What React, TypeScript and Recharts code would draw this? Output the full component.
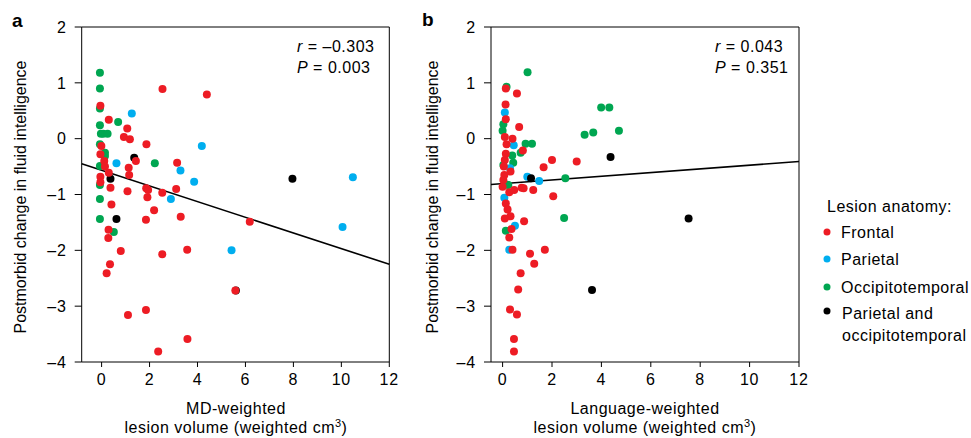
import React from "react";
import { ReferenceLine, Scatter, ScatterChart, XAxis, YAxis } from "recharts";

// panel a: MD-weighted lesion volume vs change in fluid intelligence
const mdFrontal = [
  [-0.05, 0.59], [2.54, 0.89], [4.39, 0.79], [0.3, 0.34], [1.07, 0.18], [0.93, 0.03],
  [1.18, -0.01], [-0.01, -0.13], [1.87, -0.1], [-0.05, -0.28], [1.43, -0.4], [0.11, -0.4],
  [3.15, -0.43], [1.13, -0.52], [0.14, -0.5], [0.3, -0.61], [1.15, -0.65], [-0.05, -0.68],
  [-0.05, -0.78], [0.37, -0.88], [1.86, -0.89], [1.94, -0.92], [1.08, -0.94], [2.53, -0.97],
  [3.11, -0.9], [1.91, -1.05], [0.41, -1.18], [2.19, -1.28], [1.85, -1.45], [3.3, -1.4],
  [6.18, -1.49], [0.29, -1.63], [0.28, -1.78], [0.8, -2.01], [2.53, -2.07], [3.57, -1.99],
  [0.35, -2.25], [0.21, -2.41], [5.58, -2.72], [1.1, -3.16], [1.85, -3.07], [3.58, -3.59],
  [2.36, -3.81]
];
const mdParietal = [
  [1.26, 0.45], [4.18, -0.13], [0.62, -0.44], [3.29, -0.57], [3.86, -0.77], [2.89, -1.08],
  [5.42, -2.0], [10.48, -0.69], [10.05, -1.58]
];
const mdOccipito = [
  [-0.07, 1.18], [-0.07, 0.9], [-0.07, 0.54], [0.69, 0.3], [-0.07, 0.24], [-0.03, 0.09],
  [0.07, 0.09], [0.25, 0.09], [-0.07, -0.1], [0.14, -0.25], [0.14, -0.31], [2.22, -0.44],
  [-0.07, -0.49], [-0.07, -0.83], [-0.07, -1.08], [-0.07, -1.44], [0.51, -1.67]
];
const mdBoth = [[1.36, -0.34], [0.37, -0.72], [0.62, -1.44], [7.96, -0.72], [5.6, -2.72]];
const mdFit = [[-0.83, -0.45], [12, -2.25]];

// panel b: language-weighted lesion volume
const langFrontal = [
  [0.13, 0.9], [0.58, 0.81], [0.12, 0.61], [0.13, 0.35], [0.67, 0.21], [0.09, 0.03],
  [0.4, 0.0], [0.16, -0.1], [0.13, -0.27], [0.82, -0.21], [0.09, -0.38], [1.66, -0.51],
  [2.0, -0.38], [3.0, -0.41], [0.05, -0.5], [0.32, -0.59], [0.07, -0.65], [0.03, -0.74],
  [0.0, -0.86], [0.27, -0.96], [0.47, -0.92], [0.77, -0.88], [0.85, -0.89], [1.24, -0.92],
  [2.05, -1.03], [0.13, -1.16], [0.2, -1.27], [0.32, -1.39], [0.09, -1.43], [0.87, -1.48],
  [0.36, -1.62], [0.27, -1.77], [0.4, -1.99], [1.11, -2.06], [1.71, -1.99], [1.28, -2.24],
  [0.73, -2.41], [0.63, -2.7], [0.3, -3.06], [0.58, -3.15], [0.46, -3.59], [0.46, -3.81]
];
const langParietal = [
  [0.09, 0.47], [0.45, -0.12], [0.3, -0.53], [1.0, -0.68], [1.48, -0.76], [0.07, -1.06],
  [0.5, -1.56], [0.27, -1.99]
];
const langOccipito = [
  [1.01, 1.19], [0.16, 0.93], [0.03, 0.26], [0.0, 0.14], [3.99, 0.56], [4.32, 0.56],
  [3.32, 0.07], [3.67, 0.11], [4.71, 0.14], [0.93, -0.09], [1.19, -0.09], [0.39, -0.3],
  [0.73, -0.25], [0.43, -0.43], [0.03, -0.47], [2.54, -0.71], [0.16, -0.82], [0.23, -0.83],
  [2.49, -1.42], [0.13, -1.65]
];
const langBoth = [[1.15, -0.71], [4.37, -0.33], [3.62, -2.71], [7.53, -1.43]];
const langFit = [[-0.47, -0.82], [12, -0.41]];

const xTicks = [0, 2, 4, 6, 8, 10, 12];
const yTicks = [-4, -3, -2, -1, 0, 1, 2];

const groups = ["Frontal", "Parietal", "Occipitotemporal", "Parietal and occipitotemporal"];
const colors = ["#ed1c24", "#00aeef", "#00a651", "#000000"];

const FONT = "'Liberation Sans', Arial, sans-serif";
const tickStyle = { fill: "#000", fontSize: 16, fontFamily: FONT, letterSpacing: 0.8 };

const toPts = (arr: number[][]) => arr.map(([x, y]) => ({ x, y }));

function Panel({
  left, xMin, sets, fit, marginLeft, marginRight
}: { left: number; xMin: number; sets: number[][][]; fit: number[][]; marginLeft: number; marginRight: number }) {
  // draw order: green, blue, black, red (red on top)
  const order = [2, 1, 3, 0];
  return (
    <div style={{ position: "absolute", left, top: 0 }}>
      <ScatterChart width={420} height={438} margin={{ top: 27, right: marginRight, bottom: 46, left: marginLeft }}>
        <XAxis
          dataKey="x" type="number" domain={[xMin, 12]} ticks={xTicks} allowDataOverflow
          height={30} tickSize={5} tickMargin={7} tick={tickStyle}
          axisLine={{ stroke: "#000" }} tickLine={{ stroke: "#000" }}
        />
        <YAxis
          dataKey="y" type="number" domain={[-4, 2]} ticks={yTicks} allowDataOverflow
          width={60} tickSize={7} tickMargin={8} tick={tickStyle}
          axisLine={{ stroke: "#000" }} tickLine={{ stroke: "#000" }}
          tickFormatter={(v: number) => (v < 0 ? "\u2013" + Math.abs(v) : String(v))}
        />
        <ReferenceLine y={2} stroke="#000" />
        <ReferenceLine x={12} stroke="#000" />
        {order.map((g) => (
          <Scatter
            key={g}
            data={toPts(sets[g])}
            isAnimationActive={false}
            shape={(p: any) => <circle cx={p.cx} cy={p.cy} r={4} fill={colors[g]} />}
          />
        ))}
        <ReferenceLine
          segment={[{ x: fit[0][0], y: fit[0][1] }, { x: fit[1][0], y: fit[1][1] }]}
          stroke="#000" strokeWidth={1.6} ifOverflow="extendDomain"
        />
      </ScatterChart>
    </div>
  );
}

export default function App() {
  const yTitle = "Postmorbid change in fluid intelligence";
  const ls = 0.5;
  return (
    <div style={{ position: "absolute", left: 0, top: 0, width: 971, height: 438, background: "#fff" }}>
      <Panel left={0} xMin={-0.83} marginLeft={21.7} marginRight={30.7}
        sets={[mdFrontal, mdParietal, mdOccipito, mdBoth]} fit={mdFit} />
      <Panel left={420} xMin={-0.47} marginLeft={11} marginRight={41}
        sets={[langFrontal, langParietal, langOccipito, langBoth]} fit={langFit} />
      <svg width={971} height={438} style={{ position: "absolute", left: 0, top: 0, pointerEvents: "none" }}
        fontFamily={FONT} fontSize={16} fill="#000">
        <text x={12} y={27} fontWeight="bold" fontSize={19}>a</text>
        <text x={422} y={26} fontWeight="bold" fontSize={19}>b</text>

        <text transform="translate(20,197) rotate(-90)" textAnchor="middle" dominantBaseline="central">{yTitle}</text>
        <text transform="translate(432,197) rotate(-90)" textAnchor="middle" dominantBaseline="central">{yTitle}</text>

        <g letterSpacing={ls}>
          <text x={236} y={414} textAnchor="middle">MD-weighted</text>
          <text x={236} y={433} textAnchor="middle">
            lesion volume (weighted cm<tspan dy={-6} fontSize={11}>3</tspan><tspan dy={6}>)</tspan>
          </text>
          <text x={645} y={414} textAnchor="middle">Language-weighted</text>
          <text x={645} y={433} textAnchor="middle">
            lesion volume (weighted cm<tspan dy={-6} fontSize={11}>3</tspan><tspan dy={6}>)</tspan>
          </text>

          <text x={297} y={52}><tspan fontStyle="italic">r</tspan> = {"\u2013"}0.303</text>
          <text x={297} y={73}><tspan fontStyle="italic">P</tspan> = 0.003</text>
          <text x={715} y={52}><tspan fontStyle="italic">r</tspan> = 0.043</text>
          <text x={715} y={73}><tspan fontStyle="italic">P</tspan> = 0.351</text>

          <text x={827} y={212}>Lesion anatomy:</text>
          {groups.map((g, i) => {
            const cy = [232, 259, 287, 311][i];
            return (
              <g key={g}>
                <circle cx={827} cy={cy} r={3.5} fill={colors[i]} />
                {i < 3 ? (
                  <text x={841} y={cy + 6}>{g}</text>
                ) : (
                  <>
                    <text x={842} y={319}>Parietal and</text>
                    <text x={842} y={341}>occipitotemporal</text>
                  </>
                )}
              </g>
            );
          })}
        </g>
      </svg>
    </div>
  );
}
